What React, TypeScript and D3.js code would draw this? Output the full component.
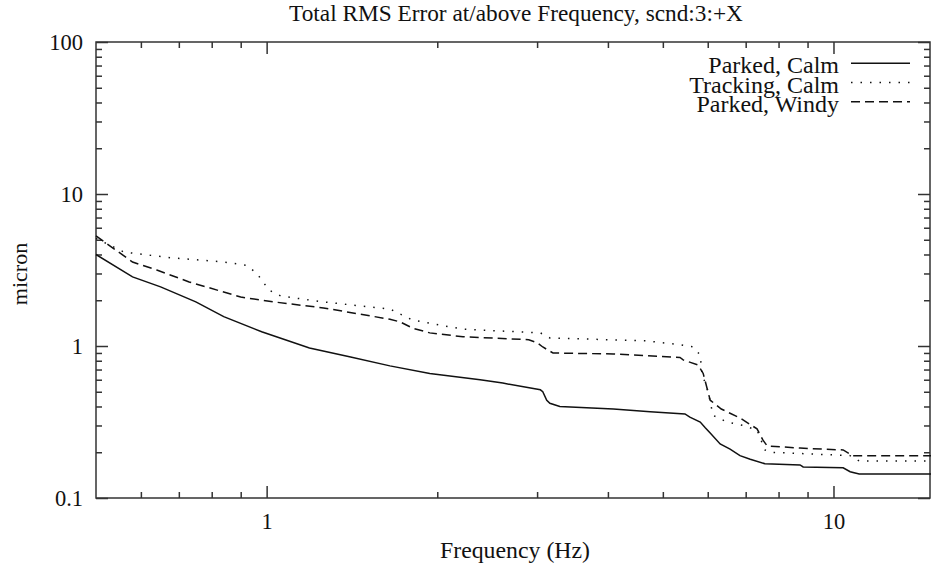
import React, { useRef, useEffect } from 'react';
import { select, scaleLog, line, axisBottom, axisTop, axisLeft, axisRight } from 'd3';

const title = 'Total RMS Error at/above Frequency, scnd:3:+X';
const seriesNames = ['Parked, Calm', 'Tracking, Calm', 'Parked, Windy'];

// Hz
const freqParkedCalm = [
  0.5, 0.58, 0.65, 0.75, 0.84, 0.98, 1.19, 1.4, 1.65, 1.94, 2.38, 2.61, 3.04, 3.07, 3.12,
  3.16, 3.29, 4.09, 4.75, 5.47, 5.58, 5.82, 5.94, 6.06, 6.31, 6.57, 6.84, 7.13, 7.57, 8.73,
  8.84, 10.4, 10.7, 11.1, 14.9
];
// micron
const rmsParkedCalm = [
  4.0, 2.85, 2.45, 1.95, 1.56, 1.24, 0.97, 0.85, 0.74, 0.66, 0.6, 0.57, 0.515, 0.5, 0.44,
  0.42, 0.4, 0.385, 0.37, 0.357, 0.34, 0.316, 0.29, 0.268, 0.227, 0.21, 0.19, 0.18, 0.168, 0.165,
  0.16, 0.158, 0.149, 0.144, 0.144
];

const freqTrackingCalm = [
  0.5, 0.56, 0.68, 0.84, 0.92, 0.96, 1.01, 1.06, 1.26, 1.65, 1.81, 2.22, 3.04, 3.16, 4.69,
  5.36, 5.66, 5.82, 5.86, 6.01, 6.13, 6.49, 6.93, 7.33, 7.57, 7.73, 10.7, 11.1, 14.9
];
const rmsTrackingCalm = [
  5.1, 4.15, 3.8, 3.57, 3.4, 3.02, 2.33, 2.13, 1.95, 1.75, 1.48, 1.29, 1.22, 1.13, 1.08,
  1.02, 0.985, 0.87, 0.66, 0.5, 0.35, 0.316, 0.3, 0.28, 0.207, 0.2, 0.19, 0.175, 0.175
];

const freqParkedWindy = [
  0.5, 0.58, 0.64, 0.73, 0.9, 1.03, 1.26, 1.65, 1.72, 1.81, 1.94, 2.22, 2.9, 3.0, 3.07,
  3.2, 4.09, 5.36, 5.43, 5.77, 5.89, 6.06, 6.34, 6.84, 7.33, 7.51, 7.64, 8.73, 10.4, 10.8, 14.9
];
const rmsParkedWindy = [
  5.3, 3.57, 3.16, 2.64, 2.1, 1.95, 1.78, 1.5, 1.44, 1.31, 1.22, 1.15, 1.1, 1.05, 0.985,
  0.9, 0.886, 0.84, 0.81, 0.75, 0.66, 0.44, 0.385, 0.336, 0.285, 0.24, 0.22, 0.213, 0.207, 0.19, 0.19
];

const xMajorTicks = [1, 10];
const xMinorTicks = [0.6, 0.7, 0.8, 0.9, 2, 3, 4, 5, 6, 7, 8, 9];
const yMajorTicks = [0.1, 1, 10, 100];
const yMinorTicks = [
  0.2, 0.3, 0.4, 0.5, 0.6, 0.7, 0.8, 0.9, 2, 3, 4, 5, 6, 7, 8, 9, 20, 30, 40, 50, 60, 70, 80, 90
];

const dashes = [null, '1.5,8', '9,5'];
const font = "'Liberation Serif', 'Times New Roman', Times, 'DejaVu Serif', serif";

export default function App() {
  const svgRef = useRef(null);

  useEffect(() => {
    const left = 96;
    const right = 930;
    const top = 42;
    const bottom = 498;

    const svg = select(svgRef.current);
    svg.selectAll('*').remove();

    const x = scaleLog().domain([0.5, 14.8]).range([left, right]);
    const y = scaleLog().domain([0.1, 100]).range([bottom, top]);

    const addText = (sel, size = 22.5) =>
      sel.attr('font-family', font).attr('font-size', size).attr('fill', '#111');

    /* Title and axis labels */
    svg
      .append('text')
      .attr('x', 516)
      .attr('y', 21)
      .attr('text-anchor', 'middle')
      .call(addText, 23.3)
      .text(title);

    svg
      .append('text')
      .attr('x', 515)
      .attr('y', 558)
      .attr('text-anchor', 'middle')
      .call(addText, 23.8)
      .text('Frequency (Hz)');

    svg
      .append('text')
      .attr('transform', 'translate(27,274) rotate(-90)')
      .attr('text-anchor', 'middle')
      .call(addText, 22)
      .text('micron');

    /* Axes, ticks pointing inward on all sides */
    const axes = svg.append('g').attr('class', 'axes');
    const styleAxis = g => {
      g.attr('font-family', font);
      g.select('.domain').remove();
      g.selectAll('line').attr('stroke', '#333').attr('stroke-width', 1.5);
      g.selectAll('text').call(addText);
    };

    axes
      .append('g')
      .attr('transform', `translate(0,${bottom})`)
      .call(axisBottom(x).tickValues(xMajorTicks).tickSize(-12).tickPadding(15).tickFormat(d => String(d)))
      .call(styleAxis);
    axes
      .append('g')
      .attr('transform', `translate(0,${bottom})`)
      .call(axisBottom(x).tickValues(xMinorTicks).tickSize(-6).tickFormat(() => ''))
      .call(styleAxis);
    axes
      .append('g')
      .attr('transform', `translate(0,${top})`)
      .call(axisTop(x).tickValues(xMajorTicks).tickSize(-12).tickFormat(() => ''))
      .call(styleAxis);
    axes
      .append('g')
      .attr('transform', `translate(0,${top})`)
      .call(axisTop(x).tickValues(xMinorTicks).tickSize(-6).tickFormat(() => ''))
      .call(styleAxis);

    axes
      .append('g')
      .attr('transform', `translate(${left},0)`)
      .call(axisLeft(y).tickValues(yMajorTicks).tickSize(-12).tickPadding(13).tickFormat(d => String(d)))
      .call(styleAxis);
    axes
      .append('g')
      .attr('transform', `translate(${left},0)`)
      .call(axisLeft(y).tickValues(yMinorTicks).tickSize(-6).tickFormat(() => ''))
      .call(styleAxis);
    axes
      .append('g')
      .attr('transform', `translate(${right},0)`)
      .call(axisRight(y).tickValues(yMajorTicks).tickSize(-12).tickFormat(() => ''))
      .call(styleAxis);
    axes
      .append('g')
      .attr('transform', `translate(${right},0)`)
      .call(axisRight(y).tickValues(yMinorTicks).tickSize(-6).tickFormat(() => ''))
      .call(styleAxis);

    /* Frame */
    svg
      .append('rect')
      .attr('x', left)
      .attr('y', top)
      .attr('width', right - left)
      .attr('height', bottom - top)
      .attr('fill', 'none')
      .attr('stroke', '#333')
      .attr('stroke-width', 1.5);

    /* Curves */
    const series = [
      { f: freqParkedCalm, v: rmsParkedCalm },
      { f: freqTrackingCalm, v: rmsTrackingCalm },
      { f: freqParkedWindy, v: rmsParkedWindy }
    ];
    const lineGenerator = line()
      .x(d => x(d[0]))
      .y(d => y(d[1]));

    svg
      .selectAll('.curve')
      .data(series)
      .join('path')
      .attr('class', 'curve')
      .attr('fill', 'none')
      .attr('stroke', '#111')
      .attr('stroke-width', 1.5)
      .attr('stroke-dasharray', (d, i) => dashes[i])
      .attr('d', d => lineGenerator(d.f.map((f, i) => [f, d.v[i]])));

    /* Legend */
    const legend = svg
      .selectAll('.legend')
      .data(seriesNames)
      .join('g')
      .attr('class', 'legend')
      .attr('transform', (d, i) => `translate(0,${63.3 + i * 19.2})`);
    legend
      .append('text')
      .attr('x', 839)
      .attr('y', 10)
      .attr('text-anchor', 'end')
      .call(addText, 24)
      .text(d => d);
    legend
      .append('line')
      .attr('x1', 851)
      .attr('x2', 910)
      .attr('stroke', '#111')
      .attr('stroke-width', 1.5)
      .attr('stroke-dasharray', (d, i) => dashes[i]);
  }, []);

  return (
    <>
      <style>{'body { margin: 0; }'}</style>
      <svg ref={svgRef} width={931} height={571} style={{ display: 'block', background: '#fff' }} />
    </>
  );
}
